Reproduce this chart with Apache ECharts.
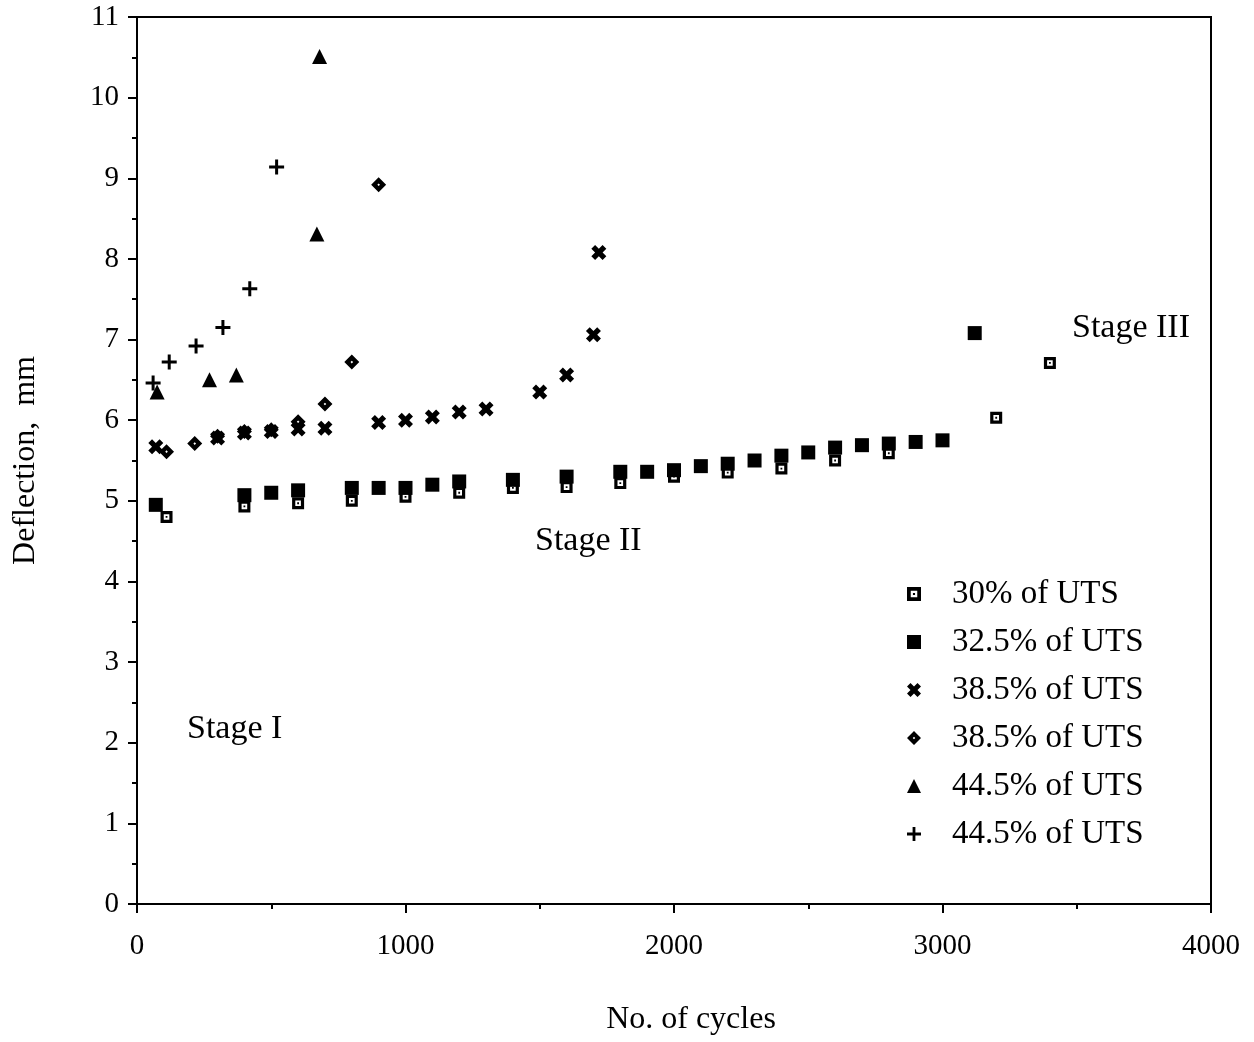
<!DOCTYPE html>
<html>
<head>
<meta charset="utf-8">
<script src="https://cdn.jsdelivr.net/npm/echarts@6/dist/echarts.min.js"></script>
<style>
html,body{margin:0;padding:0;background:#fff;}
#chart{width:1254px;height:1042px;}
</style>
</head>
<body>
<div id="chart"></div>
<script>
// ---- data ----
var seriesLabels = ['30% of UTS', '32.5% of UTS', '38.5% of UTS', '38.5% of UTS', '44.5% of UTS', '44.5% of UTS'];

var s30_x = [110, 400, 600, 800, 1000, 1200, 1400, 1600, 1800, 2000, 2200, 2400, 2600, 2800, 3200, 3400];
var s30_y = [4.80, 4.93, 4.97, 5.00, 5.05, 5.10, 5.16, 5.17, 5.22, 5.30, 5.35, 5.40, 5.50, 5.59, 6.03, 6.71];

var s325_x = [70, 400, 500, 600, 800, 900, 1000, 1100, 1200, 1400, 1600, 1800, 1900, 2000, 2100, 2200, 2300, 2400, 2500, 2600, 2700, 2800, 2900, 3000, 3120];
var s325_y = [4.95, 5.07, 5.10, 5.13, 5.16, 5.16, 5.16, 5.20, 5.24, 5.26, 5.30, 5.36, 5.36, 5.38, 5.43, 5.46, 5.50, 5.56, 5.60, 5.66, 5.69, 5.71, 5.73, 5.75, 7.08];

var s385a_x = [70, 300, 400, 500, 600, 700, 900, 1000, 1100, 1200, 1300, 1500, 1600, 1700, 1720];
var s385a_y = [5.67, 5.78, 5.84, 5.86, 5.89, 5.90, 5.97, 6.00, 6.04, 6.10, 6.14, 6.35, 6.56, 7.06, 8.08];

var s385b_x = [110, 215, 300, 400, 500, 600, 700, 800, 900];
var s385b_y = [5.61, 5.71, 5.80, 5.86, 5.88, 5.98, 6.20, 6.72, 8.92];

var s445a_x = [75, 270, 370, 670, 680];
var s445a_y = [6.35, 6.50, 6.56, 8.31, 10.51];

var s445b_x = [60, 120, 220, 320, 420, 520];
var s445b_y = [6.46, 6.72, 6.92, 7.15, 7.63, 9.14];

var xTicks = [0, 1000, 2000, 3000, 4000];
var yTicks = [0,1,2,3,4,5,6,7,8,9,10,11];
var stageLabels = ['Stage I', 'Stage II', 'Stage III'];

// ---- helpers ----
function zip(xs, ys){ return xs.map(function(x,i){ return [x, ys[i]]; }); }

var SYM_HOLLOW_SQ = 'path://M0,0 L12,0 L12,12 L0,12 Z M3.2,3.2 L3.2,8.8 L8.8,8.8 L8.8,3.2 Z M5.1,5.1 L6.9,5.1 L6.9,6.9 L5.1,6.9 Z';
var SYM_X = 'path://M0,4 L4,0 L8,4 L12,0 L16,4 L12,8 L16,12 L12,16 L8,12 L4,16 L0,12 L4,8 Z';
var SYM_DIAMOND = 'path://M8,0 L16,8 L8,16 L0,8 Z M8,6.6 L6.6,8 L8,9.4 L9.4,8 Z';
var SYM_PLUS = 'path://M6,0 L9,0 L9,6 L15,6 L15,9 L9,9 L9,15 L6,15 L6,9 L0,9 L0,6 L6,6 Z';

var FONT = '"Liberation Serif", "Times New Roman", serif';

function mk(id, xs, ys, symbol, size){
  return {
    id: id, name: id, type: 'scatter',
    data: zip(xs, ys),
    symbol: symbol, symbolSize: size,
    itemStyle: { color: '#000', opacity: 1 },
    emphasis: { disabled: true },
    silent: true
  };
}

var seriesIds = ['s1','s2','s3','s4','s5','s6'];
var series = [
  mk('s1', s30_x, s30_y, SYM_HOLLOW_SQ, 12),
  mk('s2', s325_x, s325_y, 'rect', 14),
  mk('s3', s385a_x, s385a_y, SYM_X, 15),
  mk('s4', s385b_x, s385b_y, SYM_DIAMOND, 15),
  mk('s5', s445a_x, s445a_y, 'triangle', 15),
  mk('s6', s445b_x, s445b_y, SYM_PLUS, 15)
];

var chart = echarts.init(document.getElementById('chart'), null, {renderer: 'canvas'});

var option = {
  backgroundColor: '#fff',
  animation: false,
  grid: {
    left: 137, right: 43, top: 17, bottom: 138,
    show: true, borderColor: '#000', borderWidth: 2, backgroundColor: 'transparent'
  },
  xAxis: {
    type: 'value', min: 0, max: 4000, interval: 1000,
    name: 'No. of cycles', nameLocation: 'middle', nameGap: 100,
    nameTextStyle: { fontFamily: FONT, fontSize: 32, color: '#000', padding: [0, 0, 0, 34] },
    axisLine: { show: true, onZero: false, lineStyle: { color: '#000', width: 2 } },
    axisTick: { show: true, inside: false, length: 9, lineStyle: { color: '#000', width: 2 } },
    minorTick: { show: true, splitNumber: 2, length: 5, lineStyle: { color: '#000', width: 2 } },
    splitLine: { show: false },
    minorSplitLine: { show: false },
    axisLabel: { fontFamily: FONT, fontSize: 29, color: '#000', margin: 28,
      formatter: function(v){ return xTicks.indexOf(v) >= 0 ? String(v) : ''; } }
  },
  yAxis: {
    type: 'value', min: 0, max: 11, interval: 1,
    name: 'Deflection,  mm', nameLocation: 'middle', nameGap: 95,
    nameTextStyle: { fontFamily: FONT, fontSize: 32, color: '#000' },
    axisLine: { show: true, onZero: false, lineStyle: { color: '#000', width: 2 } },
    axisTick: { show: true, inside: false, length: 9, lineStyle: { color: '#000', width: 2 } },
    minorTick: { show: true, splitNumber: 2, length: 5, lineStyle: { color: '#000', width: 2 } },
    splitLine: { show: false },
    minorSplitLine: { show: false },
    axisLabel: { fontFamily: FONT, fontSize: 29, color: '#000', margin: 18,
      formatter: function(v){ return yTicks.indexOf(v) >= 0 ? String(v) : ''; } }
  },
  legend: {
    orient: 'vertical', left: 902, top: 565,
    data: seriesIds,
    itemWidth: 14, itemHeight: 14, itemGap: 0,
    selectedMode: false,
    formatter: function(name){ return seriesLabels[seriesIds.indexOf(name)]; },
    textStyle: { fontFamily: FONT, fontSize: 33, color: '#000', lineHeight: 48, padding: [0,0,0,26] }
  },
  graphic: [
    { type: 'text', left: 187, top: 712, style: { text: stageLabels[0], font: '34px ' + FONT, fill: '#000' } },
    { type: 'text', left: 535, top: 524, style: { text: stageLabels[1], font: '34px ' + FONT, fill: '#000' } },
    { type: 'text', left: 1072, top: 311, style: { text: stageLabels[2], font: '34px ' + FONT, fill: '#000' } }
  ],
  series: series
};
chart.setOption(option);
</script>
</body>
</html>
